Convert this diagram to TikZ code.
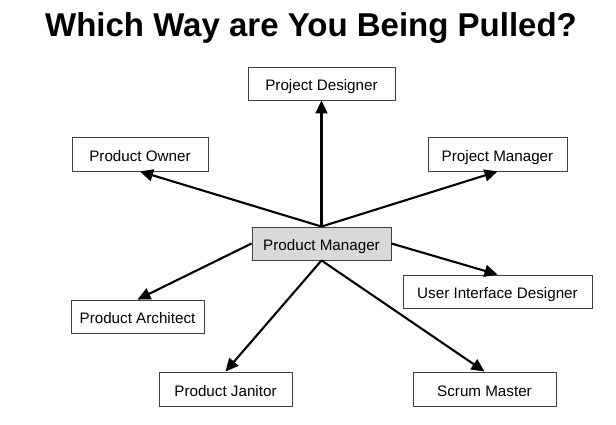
\documentclass[tikz,border=0pt]{standalone}
\usepackage{fontspec}
\setmainfont{Liberation Sans}
\usetikzlibrary{arrows.meta}
\begin{document}
\begin{tikzpicture}[x=1pt,y=-1pt,
  role/.style={draw=black!75,line width=0.9pt,fill=white,inner sep=0pt,text height=14pt,text depth=0pt,font=\fontsize{15.2}{17}\selectfont},
  pull/.style={line width=2.1pt,-{Triangle[length=13pt,width=12pt]}}]
\useasboundingbox (0,0) rectangle (616,424);
\node[anchor=base,font=\fontsize{33}{38}\selectfont\bfseries] (title) at (311,36) {Which Way are You Being Pulled?};
\node[role,minimum width=147pt,minimum height=33pt] (pd) at (321.5,83.5) {Project Designer};
\node[role,minimum width=136pt,minimum height=34pt] (po) at (140,154) {Product Owner};
\node[role,minimum width=139pt,minimum height=34pt] (prm) at (497.5,154) {Project Manager};
\node[role,fill=black!15,minimum width=139pt,minimum height=33pt] (pm) at (321.5,243.5) {Product Manager};
\node[role,minimum width=189pt,minimum height=33pt] (uid) at (497.5,291.5) {User Interface Designer};
\node[role,minimum width=133pt,minimum height=33pt] (pa) at (137.5,316.5) {Product Architect};
\node[role,minimum width=133pt,minimum height=34pt] (pj) at (225.5,389) {Product Janitor};
\node[role,minimum width=143pt,minimum height=34pt] (sm) at (484.5,389) {Scrum Master};
\draw[pull] (pm.north) -- (pd.south);
\draw[pull] (pm.north) -- (po.south);
\draw[pull] (pm.north) -- (prm.south);
\draw[pull] (pm.west) -- (pa.north);
\draw[pull] (pm.south) -- (pj.north);
\draw[pull] (pm.south) -- (sm.north);
\draw[pull] (pm.east) -- (uid.north);
\end{tikzpicture}
\end{document}
